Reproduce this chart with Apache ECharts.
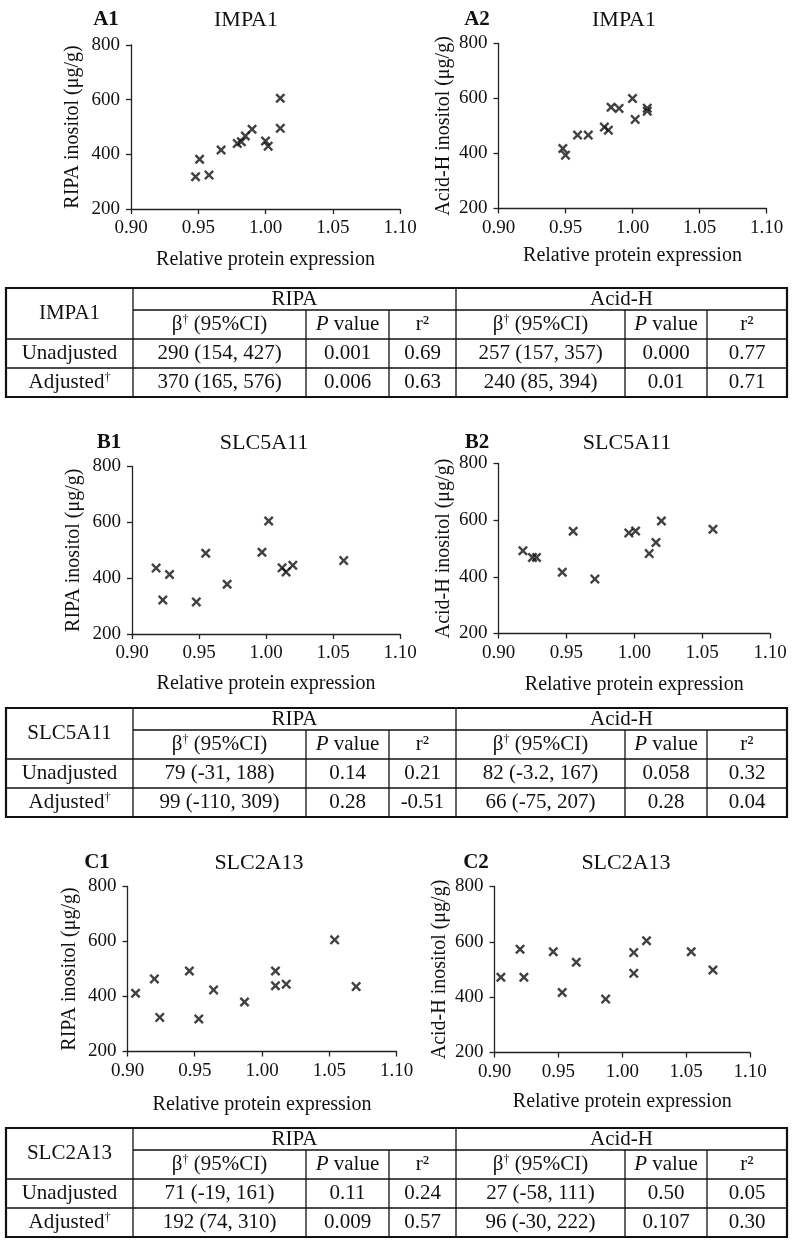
<!DOCTYPE html>
<html><head><meta charset="utf-8">
<script src="https://cdn.jsdelivr.net/npm/echarts@6/dist/echarts.min.js"></script>
<style>html,body{margin:0;padding:0;background:#fff}#c{width:800px;height:1247px}</style>
</head><body><div id="c"></div>
<script>
// ---------- data ----------
const xTickValues = [0.90, 0.95, 1.00, 1.05, 1.10];
const yTickValues = [200, 400, 600, 800];
const panelLabels = ['A1', 'A2', 'B1', 'B2', 'C1', 'C2'];
const panelGenes = ['IMPA1', 'IMPA1', 'SLC5A11', 'SLC5A11', 'SLC2A13', 'SLC2A13'];
const yNames = ['RIPA inositol (μg/g)', 'Acid-H inositol (μg/g)', 'RIPA inositol (μg/g)', 'Acid-H inositol (μg/g)', 'RIPA inositol (μg/g)', 'Acid-H inositol (μg/g)'];
const xName = 'Relative protein expression';

const a1Points = [[1.011,605],[1.011,495],[0.990,492],[0.985,467],[0.979,440],[0.982,446],[1.000,449],[1.002,430],[0.967,416],[0.951,382],[0.948,318],[0.958,324]];
const a2Points = [[1.000,600],[0.984,568],[0.990,564],[1.011,565],[1.011,554],[1.002,524],[0.979,496],[0.982,485],[0.959,467],[0.967,467],[0.948,418],[0.950,394]];
const b1Points = [[0.918,436],[0.923,322],[0.928,413],[0.948,315],[0.955,489],[0.971,378],[0.997,493],[1.002,605],[1.012,437],[1.015,422],[1.020,446],[1.058,463]];
const b2Points = [[0.918,492],[0.925,468],[0.928,468],[0.955,561],[0.947,416],[0.971,392],[0.996,555],[1.001,562],[1.011,482],[1.016,521],[1.020,597],[1.058,568]];
const c1Points = [[0.906,412],[0.920,464],[0.924,324],[0.946,493],[0.953,318],[0.964,424],[0.987,380],[1.010,493],[1.010,439],[1.018,445],[1.054,606],[1.070,436]];
const c2Points = [[0.905,472],[0.920,573],[0.923,472],[0.946,564],[0.953,417],[0.964,526],[0.987,393],[1.009,561],[1.009,486],[1.019,604],[1.054,564],[1.071,498]];

const tableGenes = ['IMPA1', 'SLC5A11', 'SLC2A13'];
const tableGroups = ['RIPA', 'Acid-H'];
const tableRowNames = ['Unadjusted', 'Adjusted'];
const impa1Unadjusted = ['290 (154, 427)', '0.001', '0.69', '257 (157, 357)', '0.000', '0.77'];
const impa1Adjusted   = ['370 (165, 576)', '0.006', '0.63', '240 (85, 394)', '0.01', '0.71'];
const slc5a11Unadjusted = ['79 (-31, 188)', '0.14', '0.21', '82 (-3.2, 167)', '0.058', '0.32'];
const slc5a11Adjusted   = ['99 (-110, 309)', '0.28', '-0.51', '66 (-75, 207)', '0.28', '0.04'];
const slc2a13Unadjusted = ['71 (-19, 161)', '0.11', '0.24', '27 (-58, 111)', '0.50', '0.05'];
const slc2a13Adjusted   = ['192 (74, 310)', '0.009', '0.57', '96 (-30, 222)', '0.107', '0.30'];

// ---------- layout ----------
const FONT = '"Liberation Serif", "Times New Roman", serif';
const INK = '#111';
const panelPoints = [a1Points, a2Points, b1Points, b2Points, c1Points, c2Points];
const grids = [
  {left: 131, top: 45, width: 269, height: 164},
  {left: 498.5, top: 43.5, width: 268, height: 165},
  {left: 132, top: 466.5, width: 268, height: 167.5},
  {left: 498.5, top: 463.5, width: 271.5, height: 170},
  {left: 127.5, top: 886.5, width: 269, height: 165},
  {left: 494.5, top: 886.5, width: 255.5, height: 166}
];
const labelPos = [[106,20,246,20],[477,20,624,20],[109,443,264,443],[477,443,627,443],[97,863,259,863],[476,863,626,863]];
const xNameGaps = [41, 37, 40, 41, 43, 39];
const yNameGaps = [48, 45, 48, 45, 48, 45];
const tableTops = [288, 708, 1128];
const tableRows = [[impa1Unadjusted, impa1Adjusted], [slc5a11Unadjusted, slc5a11Adjusted], [slc2a13Unadjusted, slc2a13Adjusted]];
const colX = [6, 133, 306, 389, 456, 625, 707, 787];
const rowOff = [0, 22, 51, 80, 109];

const crossPath = 'path://M0,1.7L1.7,0L5,3.3L8.3,0L10,1.7L6.7,5L10,8.3L8.3,10L5,6.7L1.7,10L0,8.3L3.3,5Z';

const axisLineStyle = {color: '#222', width: 1.3};
const xAxes = [], yAxes = [], series = [], graphics = [];
grids.forEach((g, i) => {
  xAxes.push({
    gridIndex: i, type: 'value', min: xTickValues[0], max: xTickValues[xTickValues.length - 1],
    interval: 0.05,
    axisLine: {show: true, lineStyle: axisLineStyle},
    axisTick: {show: true, length: 5, lineStyle: axisLineStyle},
    splitLine: {show: false},
    axisLabel: {show: true, margin: 10, fontSize: 19, color: INK, fontFamily: FONT,
      formatter: v => v.toFixed(2), showMinLabel: true, showMaxLabel: true},
    name: xName, nameLocation: 'middle', nameGap: xNameGaps[i],
    nameTextStyle: {fontSize: 20, color: INK, fontFamily: FONT}
  });
  yAxes.push({
    gridIndex: i, type: 'value', min: yTickValues[0], max: yTickValues[yTickValues.length - 1],
    interval: 200,
    axisLine: {show: true, lineStyle: axisLineStyle},
    axisTick: {show: true, length: 5, lineStyle: axisLineStyle},
    splitLine: {show: false},
    axisLabel: {show: true, margin: 11, fontSize: 19, color: INK, fontFamily: FONT},
    name: yNames[i], nameLocation: 'middle', nameRotate: 90, nameGap: yNameGaps[i],
    nameTextStyle: {fontSize: 20, color: INK, fontFamily: FONT}
  });
  series.push({
    type: 'scatter', xAxisIndex: i, yAxisIndex: i, data: panelPoints[i],
    symbol: crossPath, symbolSize: 10, itemStyle: {color: INK}, silent: true
  });
  const lp = labelPos[i];
  graphics.push({type: 'text', x: lp[0], y: lp[1], style: {text: panelLabels[i], font: 'bold 21px ' + FONT, fill: INK, align: 'center', verticalAlign: 'middle'}});
  graphics.push({type: 'text', x: lp[2], y: lp[3], style: {text: panelGenes[i], font: '22px ' + FONT, fill: INK, align: 'center', verticalAlign: 'middle'}});
});

const rich = {
  n: {fontSize: 21, fontFamily: FONT, color: INK},
  i: {fontSize: 21, fontFamily: FONT, color: INK, fontStyle: 'italic'},
  s: {fontSize: 12, fontFamily: FONT, color: INK, verticalAlign: 'top', padding: [0, 0, 8, 0]}
};
function cellText(x, y, text) {
  graphics.push({type: 'text', x: x, y: y, style: {text: text, rich: rich, font: '21px ' + FONT, fill: INK, align: 'center', verticalAlign: 'middle'}});
}
function line(x1, y1, x2, y2, w) {
  graphics.push({type: 'line', shape: {x1: x1, y1: y1, x2: x2, y2: y2}, style: {stroke: '#111', lineWidth: w}});
}
const subHeads = ['{n|β}{s|†}{n| (95%CI)}', '{i|P}{n| value}', '{n|r²}'];
tableTops.forEach((T, t) => {
  const B = T + rowOff[4];
  graphics.push({type: 'rect', shape: {x: colX[0], y: T, width: colX[7] - colX[0], height: rowOff[4]}, style: {fill: 'none', stroke: '#111', lineWidth: 2.2}});
  line(colX[1], T + rowOff[1], colX[7], T + rowOff[1], 1.3);
  line(colX[0], T + rowOff[2], colX[7], T + rowOff[2], 1.3);
  line(colX[0], T + rowOff[3], colX[7], T + rowOff[3], 1.3);
  line(colX[1], T, colX[1], B, 1.3);
  line(colX[4], T, colX[4], B, 1.3);
  [2, 3, 5, 6].forEach(c => line(colX[c], T + rowOff[1], colX[c], B, 1.3));
  cellText((colX[0] + colX[1]) / 2, T + rowOff[2] / 2, '{n|' + tableGenes[t] + '}');
  cellText((colX[1] + colX[4]) / 2, T + rowOff[1] / 2, '{n|' + tableGroups[0] + '}');
  cellText((colX[4] + colX[7]) / 2, T + rowOff[1] / 2, '{n|' + tableGroups[1] + '}');
  for (let c = 0; c < 6; c++) {
    const cx = (colX[c + 1] + colX[c + 2]) / 2;
    cellText(cx, T + (rowOff[1] + rowOff[2]) / 2, subHeads[c % 3]);
  }
  tableRows[t].forEach((row, r) => {
    const cy = T + (rowOff[2 + r] + rowOff[3 + r]) / 2;
    cellText((colX[0] + colX[1]) / 2, cy, r === 0 ? '{n|' + tableRowNames[0] + '}' : '{n|' + tableRowNames[1] + '}{s|†}');
    row.forEach((v, c) => cellText((colX[c + 1] + colX[c + 2]) / 2, cy, '{n|' + v + '}'));
  });
});

const chart = echarts.init(document.getElementById('c'), null, {renderer: 'canvas'});
chart.setOption({
  animation: false,
  backgroundColor: '#fff',
  grid: grids.map(g => Object.assign({containLabel: false}, g)),
  xAxis: xAxes, yAxis: yAxes, series: series, graphic: graphics
});
</script></body></html>
